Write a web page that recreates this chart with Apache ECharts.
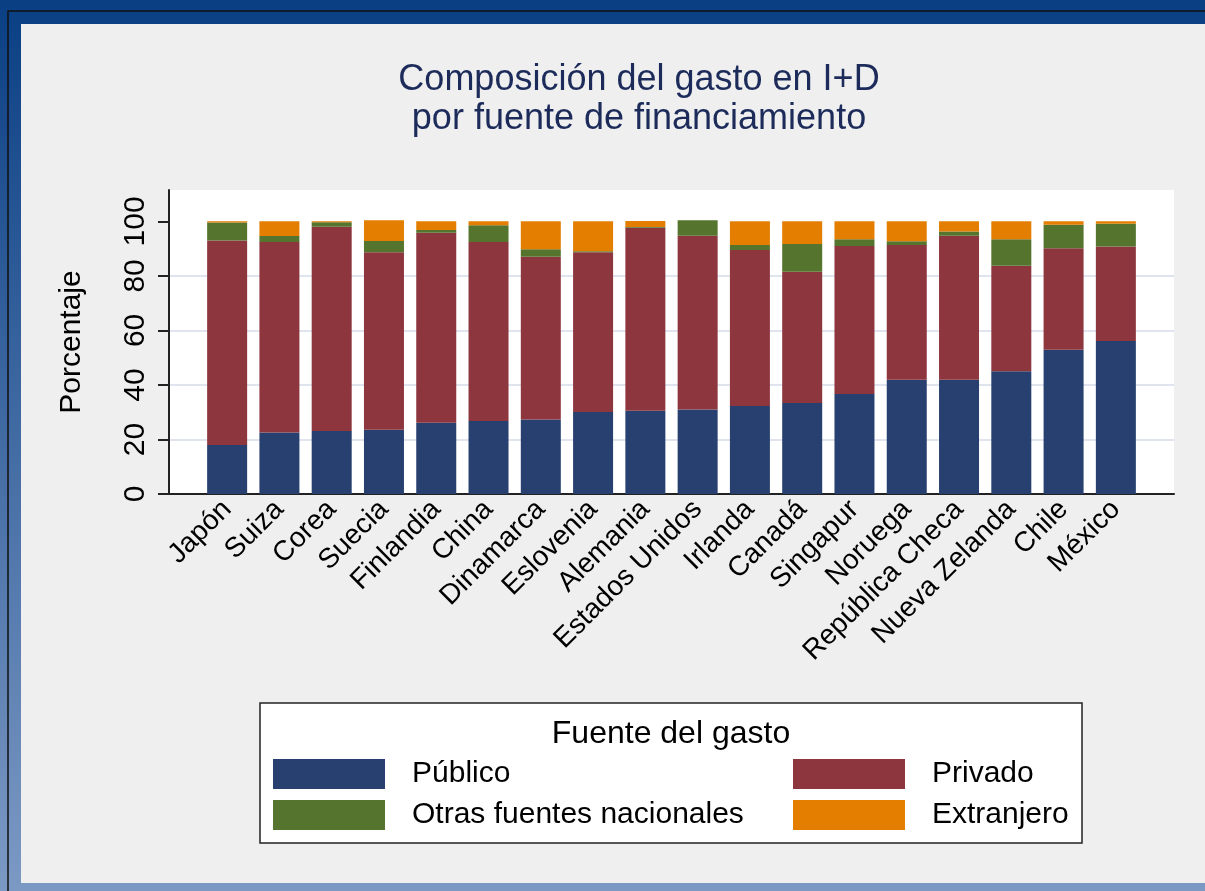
<!DOCTYPE html>
<html>
<head>
<meta charset="utf-8">
<script src="https://cdn.jsdelivr.net/npm/echarts@6/dist/echarts.min.js"></script>
<style>
html,body{margin:0;padding:0;}
#chart{width:1205px;height:891px;}
</style>
</head>
<body>
<div id="chart"></div>
<script>
var countries = ['Japón','Suiza','Corea','Suecia','Finlandia','China','Dinamarca','Eslovenia','Alemania','Estados Unidos','Irlanda','Canadá','Singapur','Noruega','República Checa','Nueva Zelanda','Chile','México'];
var publico  = [18.0, 22.6, 23.1, 23.6, 26.1, 26.8, 27.3, 30.1, 30.5, 31.0, 32.3, 33.4, 36.7, 41.9, 41.9, 45.0, 52.9, 56.1];
var privado  = [75.0, 69.8, 74.9, 65.1, 69.7, 65.6, 59.7, 58.6, 67.2, 63.7, 57.2, 48.1, 54.3, 49.4, 52.8, 38.7, 37.2, 34.7];
var otras    = [6.6, 2.2, 1.7, 4.1, 1.0, 6.2, 2.8, 0.3, 0.2, 5.7, 1.8, 10.2, 2.4, 1.4, 1.6, 9.7, 8.7, 8.3];
var extranjero = [0.4, 5.4, 0.3, 7.6, 3.2, 1.4, 10.2, 11.0, 2.2, 0.0, 8.7, 8.3, 6.6, 7.3, 3.7, 6.6, 1.2, 0.9];
var yTicks = [0, 20, 40, 60, 80, 100];
var seriesNames = ['Público', 'Privado', 'Otras fuentes nacionales', 'Extranjero'];
var colors = ['#27406F', '#8E363E', '#55742E', '#E37E00'];

var FONT = '"Liberation Sans", Arial, sans-serif';
var chart = echarts.init(document.getElementById('chart'), null, {renderer: 'canvas'});

var option = {
  backgroundColor: {
    type: 'linear', x: 0, y: 0, x2: 0, y2: 1,
    colorStops: [{offset: 0, color: '#0A3F84'}, {offset: 1, color: '#7C99C4'}]
  },
  textStyle: {fontFamily: FONT},
  animation: false,
  title: {
    text: 'Composición del gasto en I+D\npor fuente de financiamiento',
    left: 634, top: 56, textAlign: 'center',
    textStyle: {fontSize: 36, fontWeight: 'normal', color: '#1C2B5A', lineHeight: 39, fontFamily: FONT}
  },
  graphic: [
    {type: 'rect', z: -10, silent: true, shape: {x: 8, y: 11, width: 1300, height: 1000}, style: {fill: null, stroke: '#111', lineWidth: 1.5}},
    {type: 'rect', z: -9, silent: true, shape: {x: 21, y: 24, width: 1200, height: 859}, style: {fill: '#EFEFEF'}},
    {type: 'rect', z: 5, silent: true, shape: {x: 260, y: 703, width: 822, height: 140}, style: {fill: '#FFFFFF', stroke: '#222', lineWidth: 1.5}},
    {type: 'text', z: 6, silent: true, x: 671, y: 734, style: {text: 'Fuente del gasto', fill: '#000', font: '32px ' + FONT, textAlign: 'center', textVerticalAlign: 'middle'}}
  ],
  legend: [
    {
      data: [seriesNames[0], seriesNames[2]], orient: 'vertical', left: 273, top: 759, padding: 0,
      itemWidth: 112, itemHeight: 30, itemGap: 11, icon: 'rect', z: 10,
      textStyle: {fontSize: 30, color: '#000', padding: [0, 0, 0, 22], fontFamily: FONT}
    },
    {
      data: [seriesNames[1], seriesNames[3]], orient: 'vertical', left: 793, top: 759, padding: 0,
      itemWidth: 112, itemHeight: 30, itemGap: 11, icon: 'rect', z: 10,
      textStyle: {fontSize: 30, color: '#000', padding: [0, 0, 0, 22], fontFamily: FONT}
    }
  ],
  grid: [
    {left: 169, right: 31, top: 190, bottom: 397, show: true, backgroundColor: '#FFFFFF', borderWidth: 0},
    {left: 201, right: 63, top: 190, bottom: 397}
  ],
  xAxis: [
    {gridIndex: 0, type: 'value', min: 0, max: 1,
     axisLine: {show: true, onZero: false, lineStyle: {color: '#222', width: 2}},
     axisTick: {show: false}, axisLabel: {show: false}, splitLine: {show: false}},
    {gridIndex: 1, type: 'category', data: countries,
     axisLine: {show: false}, axisTick: {show: false},
     axisLabel: {rotate: 45, interval: 0, fontSize: 28, color: '#000', margin: 11, fontFamily: FONT}}
  ],
  yAxis: [
    {gridIndex: 0, type: 'value', min: 0, max: 111.5, interval: 20,
     name: 'Porcentaje', nameLocation: 'middle', nameGap: 82, nameRotate: 90,
     nameTextStyle: {fontSize: 30, color: '#000', fontFamily: FONT},
     axisLine: {show: true, lineStyle: {color: '#222', width: 2}},
     axisTick: {show: true, length: 11, lineStyle: {color: '#222', width: 2}, customValues: yTicks},
     axisLabel: {rotate: 90, fontSize: 30, color: '#000', margin: 18, customValues: yTicks, fontFamily: FONT},
     splitLine: {show: true, showMaxLine: false, showMinLine: false, lineStyle: {color: '#DFE4EE', width: 2}}},
    {gridIndex: 1, type: 'value', min: 0, max: 111.5, show: false, splitLine: {show: false}}
  ],
  series: [
    {name: seriesNames[0], type: 'bar', stack: 'total', xAxisIndex: 1, yAxisIndex: 1, barWidth: 40, data: publico, itemStyle: {color: colors[0]}},
    {name: seriesNames[1], type: 'bar', stack: 'total', xAxisIndex: 1, yAxisIndex: 1, barWidth: 40, data: privado, itemStyle: {color: colors[1]}},
    {name: seriesNames[2], type: 'bar', stack: 'total', xAxisIndex: 1, yAxisIndex: 1, barWidth: 40, data: otras, itemStyle: {color: colors[2]}},
    {name: seriesNames[3], type: 'bar', stack: 'total', xAxisIndex: 1, yAxisIndex: 1, barWidth: 40, data: extranjero, itemStyle: {color: colors[3]}}
  ]
};
chart.setOption(option);
</script>
</body>
</html>
